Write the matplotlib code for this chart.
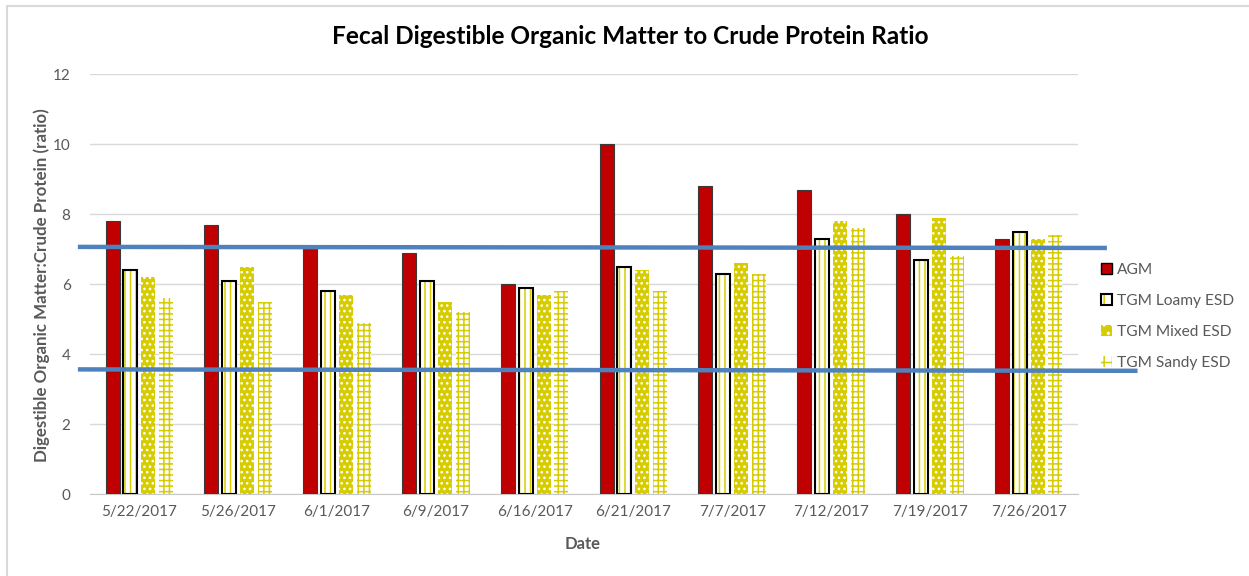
import numpy as np
import matplotlib
matplotlib.use("Agg")
import matplotlib.pyplot as plt
from matplotlib.patches import Patch, Rectangle

dates = ["5/22/2017", "5/26/2017", "6/1/2017", "6/9/2017", "6/16/2017",
         "6/21/2017", "7/7/2017", "7/12/2017", "7/19/2017", "7/26/2017"]
agm = [7.8, 7.7, 7.1, 6.9, 6.0, 10.0, 8.8, 8.7, 8.0, 7.3]
loamy = [6.4, 6.1, 5.8, 6.1, 5.9, 6.5, 6.3, 7.3, 6.7, 7.5]
mixed = [6.2, 6.5, 5.7, 5.5, 5.7, 6.4, 6.6, 7.8, 7.9, 7.3]
sandy = [5.6, 5.5, 4.9, 5.2, 5.8, 5.8, 6.3, 7.6, 6.8, 7.4]

# hand drawn reference lines (x in category units, y in ratio)
upper_x = [-0.6, 9.77]
upper_y = [7.06, 7.03]
lower_x = [-0.6, 10.08]
lower_y = [3.56, 3.52]

yticks = [0, 2, 4, 6, 8, 10, 12]

RED = "#c00000"
YEL = "#d6cc00"
GRAY = "#595959"
BLUE = "#4f81bd"

plt.rcParams["font.family"] = ["Lato", "DejaVu Sans"]
plt.rcParams["hatch.linewidth"] = 1.1

fig = plt.figure(figsize=(12.49, 5.76), dpi=100)
ax = fig.add_axes([90 / 1249, 82 / 576, 988 / 1249, 420 / 576])

x = np.arange(len(dates))
w = 0.142
step = 0.181

ax.bar(x - 1.5 * step, agm, w, color=RED, edgecolor="#3a3a3a", linewidth=0.8, zorder=3)
ax.bar(x - 0.5 * step, loamy, w, facecolor="white", edgecolor=YEL, hatch="|||", linewidth=0, zorder=3)
ax.bar(x - 0.5 * step, loamy, w, fill=False, edgecolor="black", linewidth=1.5, zorder=4)
ax.bar(x + 0.5 * step, mixed, w, facecolor=YEL, edgecolor="white", hatch="...", linewidth=0, zorder=3)
ax.bar(x + 1.5 * step, sandy, w, facecolor="white", edgecolor=YEL, hatch="+++", linewidth=0, zorder=3)

ax.plot(upper_x, upper_y, color=BLUE, lw=3.2, clip_on=False, zorder=5)
ax.plot(lower_x, lower_y, color=BLUE, lw=3.2, clip_on=False, zorder=5)

ax.set_xlim(-0.5, len(dates) - 0.5)
ax.set_ylim(0, 12)
ax.set_yticks(yticks)
ax.set_xticks(x)
ax.set_xticklabels(dates)
ax.tick_params(axis="both", length=0, labelsize=11, labelcolor=GRAY)
ax.tick_params(axis="y", pad=14)
ax.tick_params(axis="x", pad=8)
ax.grid(axis="y", color="#d9d9d9", linewidth=1, zorder=0)
for s in ["left", "right", "top"]:
    ax.spines[s].set_visible(False)
ax.spines["bottom"].set_color("#c8c8c8")

fig.text(630 / 1249, 1 - 36 / 576, "Fecal Digestible Organic Matter to Crude Protein Ratio",
         ha="center", va="center", fontsize=17.6, fontweight="bold", color="black")
fig.text(583 / 1249, 1 - 544 / 576, "Date", ha="center", va="center",
         fontsize=12, fontweight="bold", color=GRAY)
fig.text(42 / 1249, 1 - 285 / 576, "Digestible Organic Matter:Crude Protein (ratio)",
         ha="center", va="center", rotation=90, fontsize=12.2, fontweight="bold", color=GRAY)

handles = [
    Patch(facecolor=RED, edgecolor="black", linewidth=1),
    (Patch(facecolor="white", edgecolor=YEL, hatch="||", linewidth=0),
     Patch(fill=False, edgecolor="black", linewidth=1.5)),
    Patch(facecolor=YEL, edgecolor="white", hatch="..", linewidth=0),
    Patch(facecolor="white", edgecolor=YEL, hatch="++", linewidth=0),
]
labels = ["AGM", "TGM Loamy ESD", "TGM Mixed ESD", "TGM Sandy ESD"]
leg = fig.legend(handles, labels, loc="upper left", bbox_to_anchor=(1087 / 1249, 1 - 249 / 576),
                 frameon=False, fontsize=11.2, handlelength=0.7, handleheight=0.7,
                 handletextpad=0.3, labelspacing=1.1, labelcolor=GRAY)

fig.add_artist(Rectangle((7 / 1249, -0.1), 1.2, 1 - 6 / 576 + 0.1, transform=fig.transFigure,
                         fill=False, edgecolor="#d9d9d9", linewidth=1.5))

fig.savefig("out.png", dpi=100)
